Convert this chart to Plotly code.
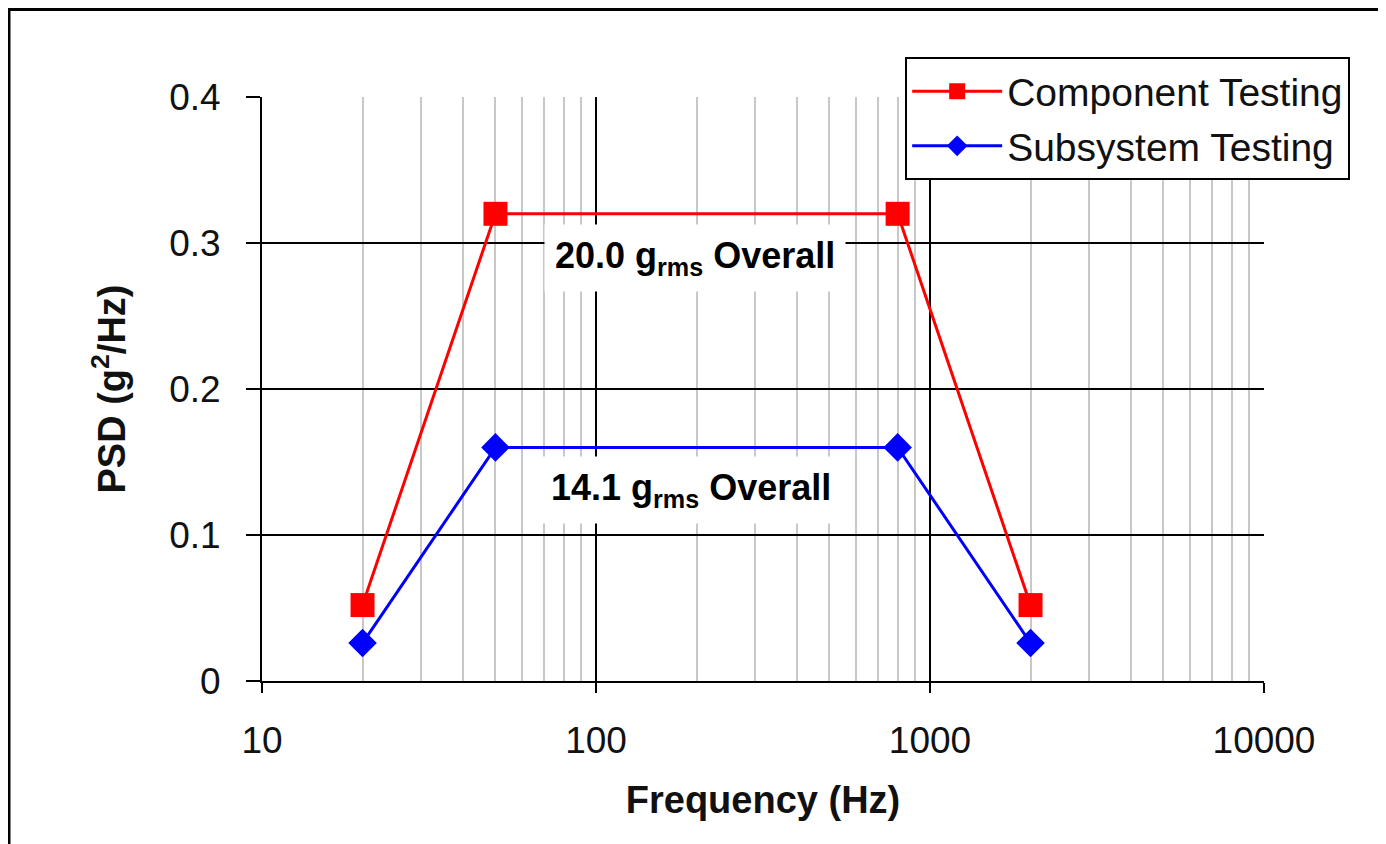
import plotly.graph_objects as go

freq_hz = [20, 50, 800, 2000]
component_psd = [0.052, 0.32, 0.32, 0.052]
subsystem_psd = [0.026, 0.16, 0.16, 0.026]
x_tick_vals = [10, 100, 1000, 10000]
x_tick_text = ["10", "100", "1000", "10000"]
minor_vals = [m * d for d in (10, 100, 1000) for m in range(2, 10)]

FONT = "Liberation Sans, Arial, sans-serif"

fig = go.Figure()
fig.add_trace(go.Scatter(
    x=freq_hz, y=component_psd, name="Component Testing", mode="lines+markers",
    legendgroup="a",
    line=dict(color="#ff0000", width=3),
    marker=dict(symbol="square", size=24, color="#ff0000"),
))
fig.add_trace(go.Scatter(
    x=freq_hz, y=subsystem_psd, name="Subsystem Testing", mode="lines+markers",
    legendgroup="b",
    line=dict(color="#0000ff", width=3),
    marker=dict(symbol="diamond", size=22, color="#0000ff"),
))

fig.update_layout(
    width=1378, height=836,
    margin=dict(l=254, r=122, t=89, b=163),
    paper_bgcolor="white", plot_bgcolor="white",
    font=dict(family=FONT, size=36, color="black"),
    showlegend=True,
    legend=dict(
        x=1.086, y=1.068, xanchor="right", yanchor="top",
        bordercolor="black", borderwidth=2, bgcolor="white",
        font=dict(family=FONT, size=39, color="#111111"),
        tracegroupgap=1, itemwidth=90,
    ),
    xaxis=dict(
        type="log", range=[1, 4],
        tickmode="array", tickvals=x_tick_vals, ticktext=x_tick_text,
        showgrid=True, gridcolor="black", gridwidth=1.5,
        showline=True, linecolor="black", linewidth=2,
        ticks="outside", ticklen=10, tickwidth=2, tickcolor="black",
        ticklabelstandoff=16,
        tickfont=dict(family=FONT, size=37, color="#111111"),
        minor=dict(tickmode="array", tickvals=minor_vals, showgrid=True,
                   gridcolor="#c8c8c8", gridwidth=1.5, ticks=""),
        zeroline=False,
        title=dict(text="<b>Frequency (Hz)</b>", standoff=26,
                   font=dict(family=FONT, size=38, color="#111111")),
    ),
    yaxis=dict(
        range=[0, 0.4], dtick=0.1, tick0=0,
        showgrid=True, gridcolor="black", gridwidth=1.5,
        showline=True, linecolor="black", linewidth=2,
        ticks="outside", ticklen=14, tickwidth=2, tickcolor="black",
        ticklabelstandoff=18,
        tickfont=dict(family=FONT, size=37, color="#111111"),
        zeroline=False,
        title=dict(text="<b>PSD (g<sup>2</sup>/Hz)</b>", standoff=32,
                   font=dict(family=FONT, size=38, color="#111111")),
    ),
)

fig.add_annotation(
    x=2.296, y=0.2897, xref="x", yref="y",
    text="<b>20.0 g<sub>rms</sub> Overall</b>", showarrow=False,
    font=dict(family=FONT, size=36, color="black"),
    bgcolor="white", borderpad=10,
)
fig.add_annotation(
    x=2.285, y=0.1308, xref="x", yref="y",
    text="<b>14.1 g<sub>rms</sub> Overall</b>", showarrow=False,
    font=dict(family=FONT, size=36, color="black"),
    bgcolor="white", borderpad=10,
)

# outer chart border
fig.add_shape(type="rect", xref="paper", yref="paper",
              x0=-0.2525, x1=1.14, y0=-0.3, y1=1.15,
              line=dict(color="black", width=3), fillcolor="rgba(0,0,0,0)", layer="below")

fig.write_html("out.html")
